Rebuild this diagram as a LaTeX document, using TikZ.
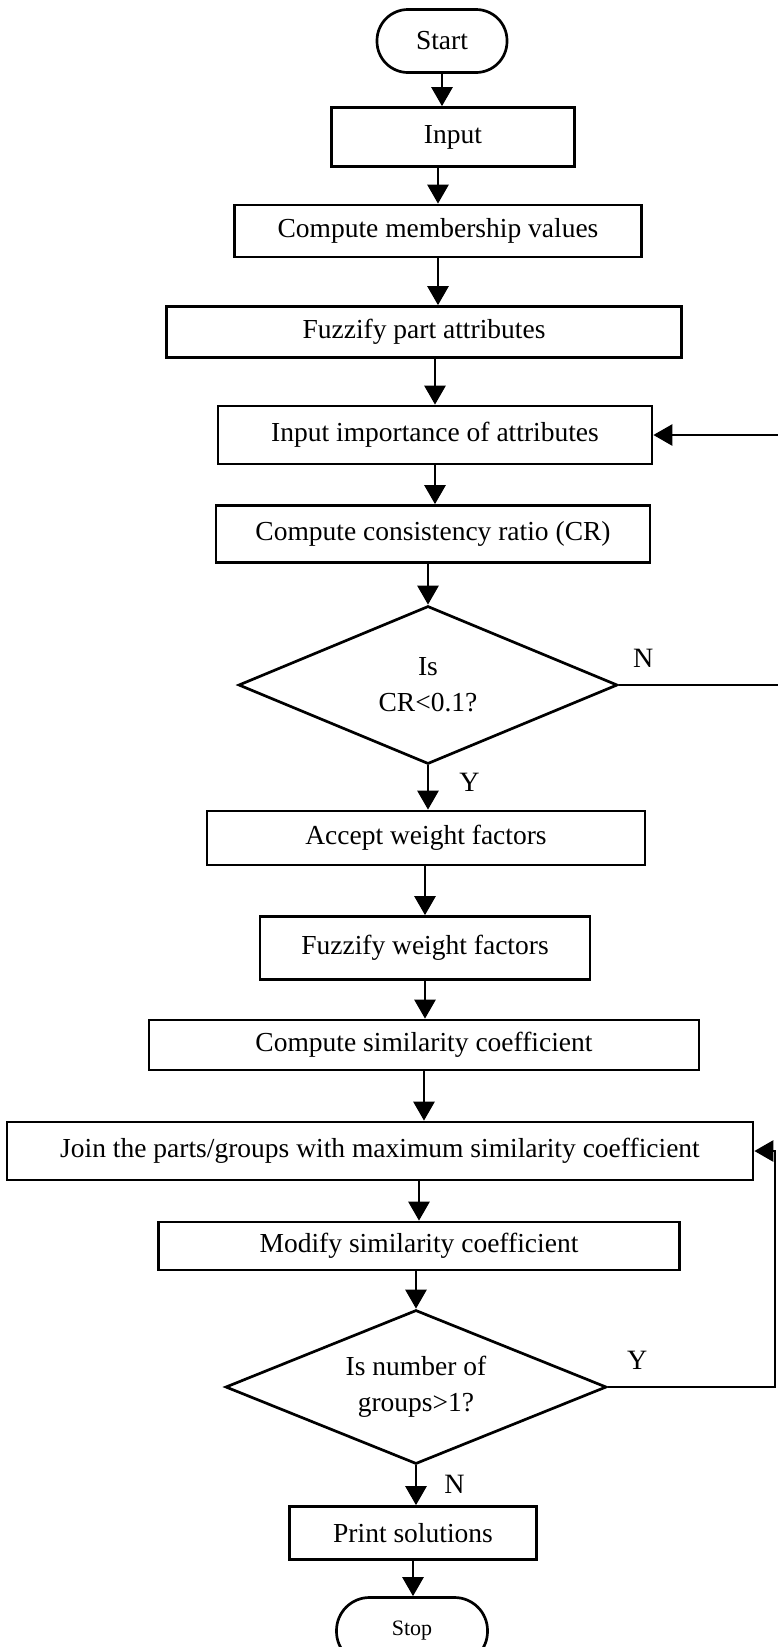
\documentclass[tikz,border=0pt]{standalone}
\usepackage{fontspec}
\setmainfont{Liberation Serif}
\usetikzlibrary{arrows.meta,positioning,shapes.geometric}

\begin{document}
\begin{tikzpicture}[x=1pt,y=-1pt,line width=2.7pt,
    every node/.style={font=\fontsize{27.5}{36}\selectfont},
    box/.style={draw,rectangle,inner sep=0pt},
    term/.style={box,rounded corners=31pt},
    decide/.style={draw,diamond,aspect=2.4,inner sep=0pt,align=center},
    lbl/.style={inner sep=0pt,font=\fontsize{28}{30}\selectfont},
    flow/.style={-{Triangle[length=19pt,width=21pt]}}]

\useasboundingbox (0,0) rectangle (777,1647);

\node[term, minimum width=130, minimum height=63] (start) at (442,41) {Start};
\node[box, minimum width=243, minimum height=59] (input) at (453,137) {Input};
\node[box, minimum width=407, minimum height=52] (member) at (438,231) {Compute membership values};
\node[box, minimum width=515, minimum height=51] (fuzzattr) at (424,332) {Fuzzify part attributes};
\node[box, minimum width=434, minimum height=58] (importance) at (435,435) {Input importance of attributes};
\node[box, minimum width=434, minimum height=57] (ratio) at (433,534) {Compute consistency ratio (CR)};
\node[decide, minimum width=379, minimum height=158] (crtest) at (428,685) {Is\\CR<0.1?};
\node[box, minimum width=438, minimum height=54] (accept) at (426,838) {Accept weight factors};
\node[box, minimum width=330, minimum height=63] (fuzzweight) at (425,948) {Fuzzify weight factors};
\node[box, minimum width=550, minimum height=50] (similar) at (424,1045) {Compute similarity coefficient};
\node[box, minimum width=746, minimum height=58] (join) at (380,1151) {Join the parts/groups with maximum similarity coefficient};
\node[box, minimum width=521, minimum height=48] (modify) at (419,1246) {Modify similarity coefficient};
\node[decide, minimum width=381, minimum height=154] (grouptest) at (416,1387) {Is number of\\groups>1?};
\node[box, minimum width=247, minimum height=53] (print) at (413,1533) {Print solutions};
\node[term, minimum width=151, minimum height=67, rounded corners=33pt, font=\fontsize{22}{26}\selectfont] (stop) at (412,1631) {Stop};

% yes/no labels
\node[lbl, above right=16pt and 13pt of crtest.east] (crno) {N};
\node[lbl, below right=6pt and 30pt of crtest.south] (cryes) {Y};
\node[lbl, above right=16pt and 18pt of grouptest.east] (grpyes) {Y};
\node[lbl, below right=8pt and 27pt of grouptest.south] (grpno) {N};

% main flow
\draw[flow] (start) -- (start |- input.north);
\draw[flow] (input.south -| member) -- (member.north);
\draw[flow] (member) -- (member |- fuzzattr.north);
\draw[flow] (fuzzattr.south -| importance) -- (importance.north);
\draw[flow] (importance) -- (importance |- ratio.north);
\draw[flow] (ratio.south -| crtest) -- (crtest.north);
\draw[flow] (crtest) -- (crtest |- accept.north);
\draw[flow] (accept.south -| fuzzweight) -- (fuzzweight.north);
\draw[flow] (fuzzweight) -- (fuzzweight |- similar.north);
\draw[flow] (similar) -- (similar |- join.north);
\draw[flow] (join.south -| modify) -- (modify.north);
\draw[flow] (modify.south -| grouptest) -- (grouptest.north);
\draw[flow] (grouptest) -- (grouptest |- print.north);
\draw[flow] (print) -- (print |- stop.north);

% loops back
\coordinate (loopa) at (779,0);
\coordinate (loopb) at (775,0);
\draw[flow] (crtest.east) -- (crtest.east -| loopa) |- (importance.east);
\draw[flow] (grouptest.east) -- (grouptest.east -| loopb) |- (join.east);

\end{tikzpicture}
\end{document}
